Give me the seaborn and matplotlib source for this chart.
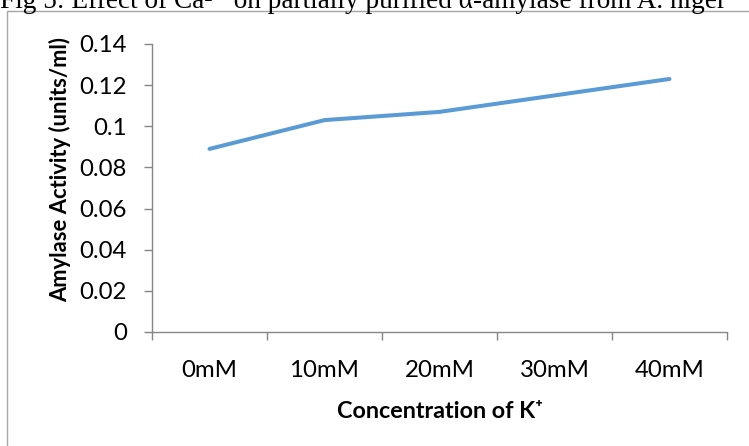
import matplotlib
matplotlib.use("Agg")
import matplotlib.pyplot as plt
import seaborn as sns
import pandas as pd
from matplotlib.patches import Rectangle
from matplotlib.ticker import FixedLocator

categories = ["0mM", "10mM", "20mM", "30mM", "40mM"]
activity = [0.089, 0.103, 0.107, 0.115, 0.123]
y_ticks = [0, 0.02, 0.04, 0.06, 0.08, 0.1, 0.12, 0.14]
y_tick_labels = ["0", "0.02", "0.04", "0.06", "0.08", "0.1", "0.12", "0.14"]
title_text = "Fig 5: Effect of Ca\u00b2\u207a on partially purified \u03b1-amylase from A. niger"
x_label = "Concentration of K\u207a"
y_label = "Amylase Activity (units/ml)"

sns.set_theme(style="white")
plt.rcParams["font.family"] = ["Lato", "DejaVu Sans"]

W, H = 749, 446
dpi = 100
fig = plt.figure(figsize=(W / dpi, H / dpi), dpi=dpi)
fig.patch.set_facecolor("white")

# outer chart frame
fig.patches.append(Rectangle((7 / W, -0.05), 1.1, 1 - 11 / H + 0.05,
                             transform=fig.transFigure, fill=False,
                             edgecolor="#a6a6a6", linewidth=1.0))

ax = fig.add_axes([152 / W, 1 - 332 / H, (727 - 152) / W, (332 - 44) / H])
df = pd.DataFrame({"pos": list(range(len(categories))), "activity": activity})
sns.lineplot(data=df, x="pos", y="activity", ax=ax, color="#5b9bd5",
             linewidth=2.9, solid_capstyle="round")

ax.set_xlim(-0.5, len(categories) - 0.5)
ax.set_ylim(0, 0.14)
ax.set_yticks(y_ticks)
ax.set_yticklabels(y_tick_labels)
ax.set_xticks(range(len(categories)))
ax.set_xticklabels(categories)
ax.xaxis.set_minor_locator(FixedLocator([i - 0.5 for i in range(len(categories) + 1)]))
ax.tick_params(axis="x", which="major", length=0, pad=20, labelsize=17.3, colors="black")
ax.tick_params(axis="x", which="minor", length=6, width=1, color="#868686", bottom=True)
ax.tick_params(axis="y", which="major", length=6, width=1, color="#868686",
               left=True, pad=12, labelsize=17.3, labelcolor="black")
ax.set_xlabel("")
ax.set_ylabel("")
for s in ["top", "right"]:
    ax.spines[s].set_visible(False)
for s in ["left", "bottom"]:
    ax.spines[s].set_color("#868686")
    ax.spines[s].set_linewidth(1.0)
ax.grid(False)

fig.text(440 / W, 1 - 411 / H, x_label, ha="center", va="center",
         fontsize=16.8, fontweight="bold", color="black")
fig.text(60 / W, 1 - 170 / H, y_label, ha="center", va="center",
         rotation=90, fontsize=15.8, fontweight="bold", color="black")
fig.text(0 / W, 1 - 8 / H, title_text, ha="left", va="baseline",
         fontsize=19.6, color="black",
         family=["Liberation Serif", "DejaVu Serif"])

fig.savefig("out.png", dpi=dpi)
